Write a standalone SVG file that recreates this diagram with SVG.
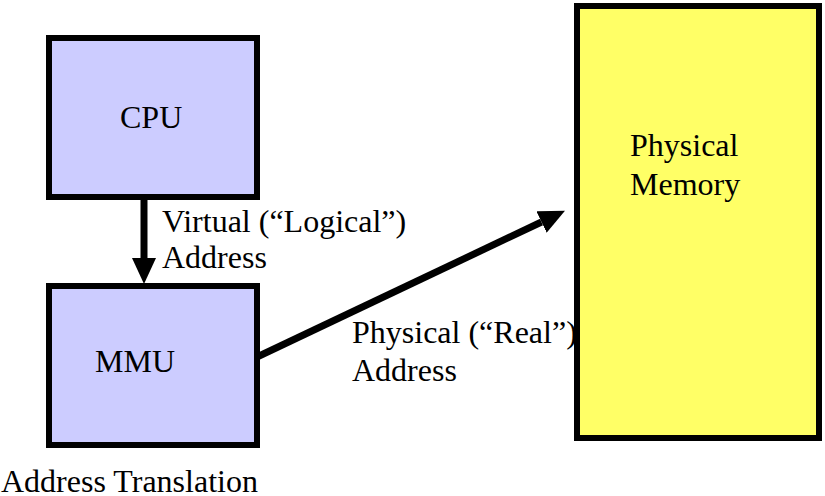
<svg xmlns="http://www.w3.org/2000/svg" width="825" height="496" viewBox="0 0 825 496">
<style>
.box{stroke:#000;stroke-width:6}
.t{font-family:"Liberation Serif","Times New Roman",serif;font-size:32px;fill:#000}
.c{stroke:#000;stroke-width:7;fill:none}
</style>
<defs>
<marker id="ah" markerUnits="userSpaceOnUse" markerWidth="26" markerHeight="24" viewBox="0 0 26 24" refX="0" refY="12" orient="auto">
<path d="M0,0 L26,12 L0,24 z" fill="#000"/>
</marker>
</defs>
<rect width="825" height="496" fill="#fff"/>
<g id="cpu">
<rect class="box" x="49" y="38" width="208" height="159" fill="#ccccff"/>
<text class="t" x="120" y="128">CPU</text>
</g>
<g id="mmu">
<rect class="box" x="49" y="286" width="208" height="159" fill="#ccccff"/>
<text class="t" x="95" y="372">MMU</text>
</g>
<g id="memory">
<rect class="box" x="577" y="6" width="242" height="432" fill="#ffff66"/>
<text class="t" x="630" y="156">Physical</text>
<text class="t" x="630" y="195">Memory</text>
</g>
<g id="connectors">
<line class="c" x1="144" y1="200" x2="144" y2="258" marker-end="url(#ah)"/>
<line class="c" x1="257" y1="357" x2="541.5" y2="222" marker-end="url(#ah)"/>
</g>
<g id="labels">
<text class="t" x="162" y="232">Virtual (“Logical”)</text>
<text class="t" x="162" y="268">Address</text>
<text class="t" x="352" y="343">Physical (“Real”)</text>
<text class="t" x="352" y="381">Address</text>
<text class="t" x="1" y="492">Address Translation</text>
</g>
</svg>
